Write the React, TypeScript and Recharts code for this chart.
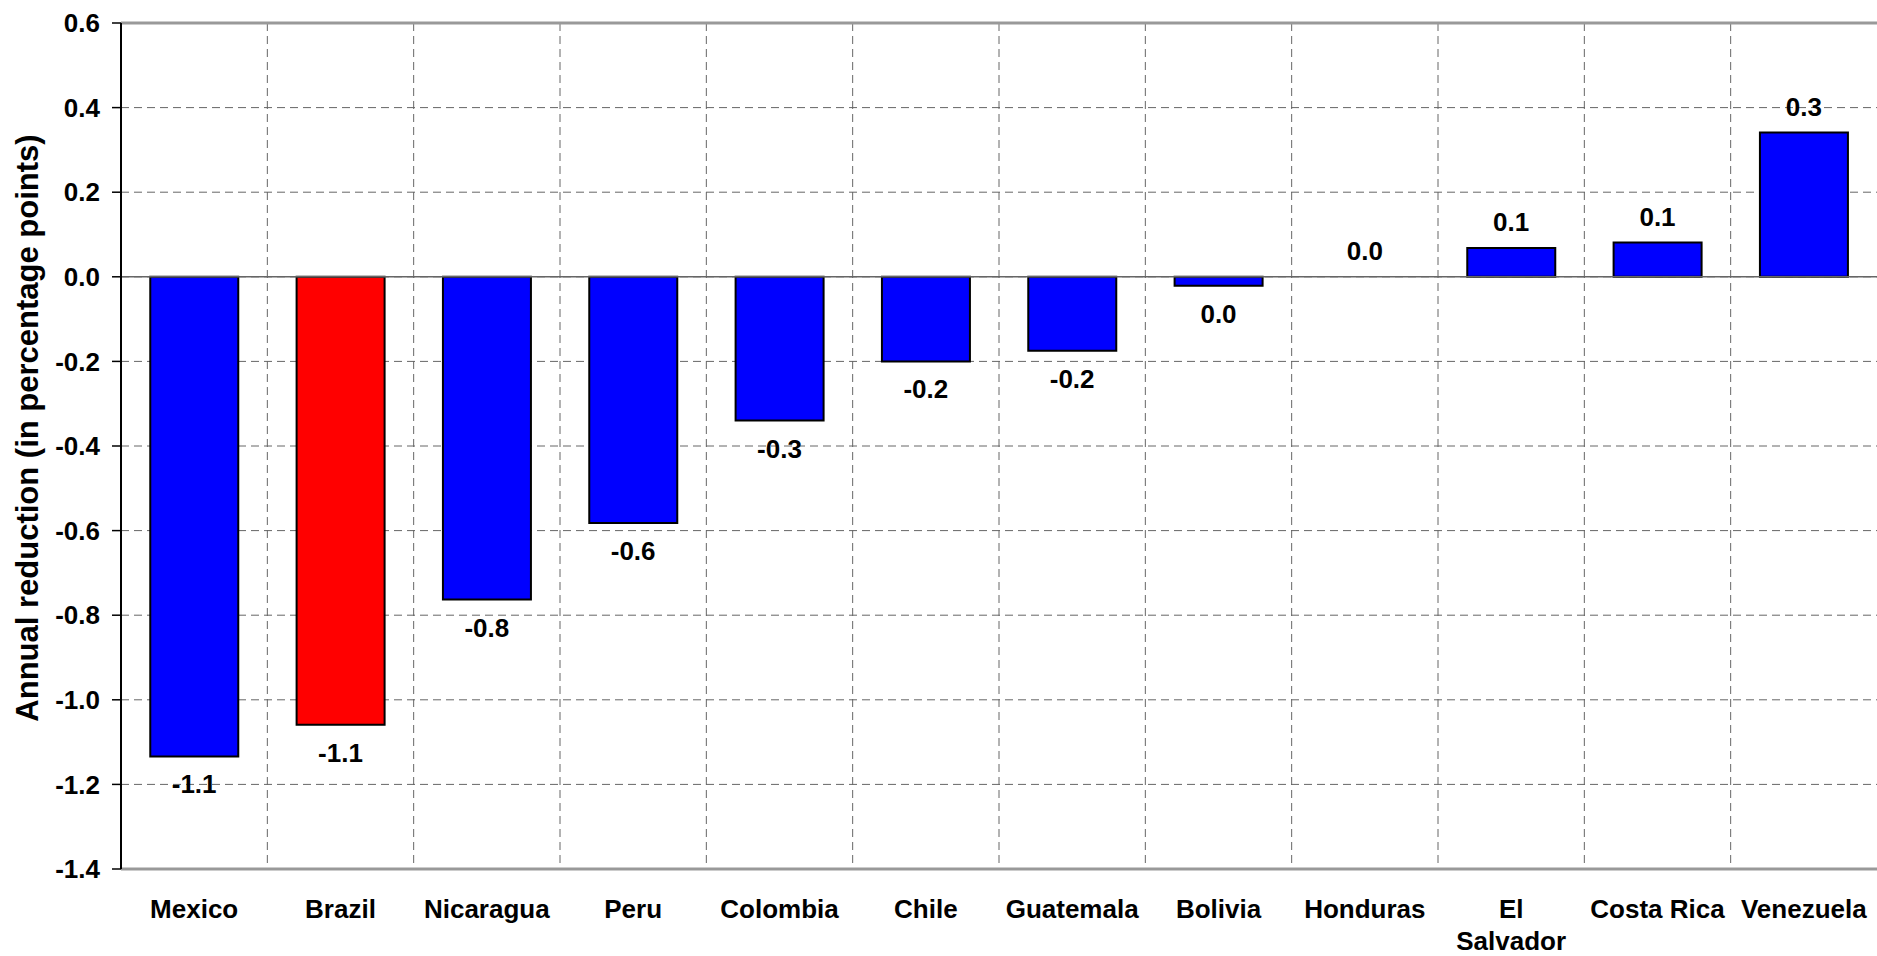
import React from 'react';
import {
    ComposedChart,
    Bar,
    Line,
    XAxis,
    YAxis,
    CartesianGrid,
    ReferenceLine,
    LabelList,
    Cell,
} from 'recharts';

const categories = [
    'Mexico', 'Brazil', 'Nicaragua', 'Peru', 'Colombia', 'Chile',
    'Guatemala', 'Bolivia', 'Honduras', 'El Salvador', 'Costa Rica', 'Venezuela',
];
// axis text as printed, with the line break the original uses
const categoryLabels = [
    'Mexico', 'Brazil', 'Nicaragua', 'Peru', 'Colombia', 'Chile',
    'Guatemala', 'Bolivia', 'Honduras', 'El\nSalvador', 'Costa Rica', 'Venezuela',
];
const reductions = [
    -1.134, -1.059, -0.763, -0.582, -0.34, -0.2,
    -0.175, -0.021, 0, 0.068, 0.081, 0.341,
];
const yTicks = [-1.4, -1.2, -1.0, -0.8, -0.6, -0.4, -0.2, 0.0, 0.2, 0.4, 0.6];
const highlighted = 'Brazil';

const FONT = '"Liberation Sans", Arial, sans-serif';
const BLUE = '#0000FF';
const RED = '#FF0000';

const data = categories.map((name, i) => ({ name, value: reductions[i] }));

const fmt = (v: number) => {
    const r = Math.round(v * 10) / 10;
    return (Math.abs(r) < 0.05 ? 0 : r).toFixed(1);
};

// labels hang off the value point: below the end of negative bars, above the rest
const ValueLabel = (props: any) => {
    const { x, y, value } = props;
    const ty = value < 0 ? y + 28 : y - 26;
    return (
        <text
            x={x}
            y={ty}
            textAnchor="middle"
            dominantBaseline="central"
            fontFamily={FONT}
            fontWeight="bold"
            fontSize={26}
            fill="#000"
        >
            {fmt(value)}
        </text>
    );
};

const CategoryTick = (props: any) => {
    const { x, y, payload } = props;
    const idx = categories.indexOf(payload.value);
    const lines = (idx >= 0 ? categoryLabels[idx] : String(payload.value)).split('\n');
    return (
        <text
            x={x}
            y={y}
            textAnchor="middle"
            fontFamily={FONT}
            fontWeight="bold"
            fontSize={26}
            fill="#000"
        >
            {lines.map((l, i) => (
                <tspan key={i} x={x} dy={i === 0 ? '0.71em' : 32}>
                    {l}
                </tspan>
            ))}
        </text>
    );
};

const YTitle = (props: any) => {
    const { viewBox } = props;
    const cy = viewBox.y + viewBox.height / 2 - 18;
    return (
        <text
            transform={`translate(27, ${cy}) rotate(-90)`}
            textAnchor="middle"
            dominantBaseline="central"
            fontFamily={FONT}
            fontWeight="bold"
            fontSize={31}
            fill="#000"
        >
            Annual reduction (in percentage points)
        </text>
    );
};

export default function App() {
    return (
        <div style={{ position: 'absolute', left: 0, top: 0, background: '#fff' }}>
            <ComposedChart
                width={1877}
                height={956}
                data={data}
                margin={{ top: 23, right: 0, left: 0, bottom: 0 }}
                barCategoryGap="20%"
            >
                <CartesianGrid
                    stroke="#666"
                    strokeDasharray="8 5"
                    verticalCoordinatesGenerator={({ offset }: any) =>
                        categories.slice(1).map((_, i) => offset.left + ((i + 1) * offset.width) / categories.length)
                    }
                />
                <XAxis
                    dataKey="name"
                    height={87}
                    interval={0}
                    tickLine={false}
                    axisLine={{ stroke: '#999', strokeWidth: 3 }}
                    tick={<CategoryTick />}
                    tickMargin={25}
                />
                <YAxis
                    width={121}
                    domain={[-1.4, 0.6]}
                    ticks={yTicks}
                    allowDataOverflow
                    tickFormatter={(v: number) => v.toFixed(1)}
                    tickSize={9}
                    tickMargin={12}
                    axisLine={{ stroke: '#000', strokeWidth: 2 }}
                    tickLine={{ stroke: '#000', strokeWidth: 1.5 }}
                    tick={{ fontFamily: FONT, fontWeight: 'bold', fontSize: 26, fill: '#000' }}
                    label={<YTitle />}
                />
                <ReferenceLine y={0.6} stroke="#999" strokeWidth={3} />
                <ReferenceLine y={0} stroke="#666" strokeWidth={1.5} />
                <Bar dataKey="value" stroke="#000" strokeWidth={2} isAnimationActive={false}>
                    {data.map((d) => (
                        <Cell key={d.name} fill={d.name === highlighted ? RED : BLUE} />
                    ))}
                </Bar>
                <Line
                    dataKey="value"
                    stroke="none"
                    dot={false}
                    activeDot={false}
                    legendType="none"
                    isAnimationActive={false}
                >
                    <LabelList dataKey="value" content={<ValueLabel />} />
                </Line>
            </ComposedChart>
        </div>
    );
}
